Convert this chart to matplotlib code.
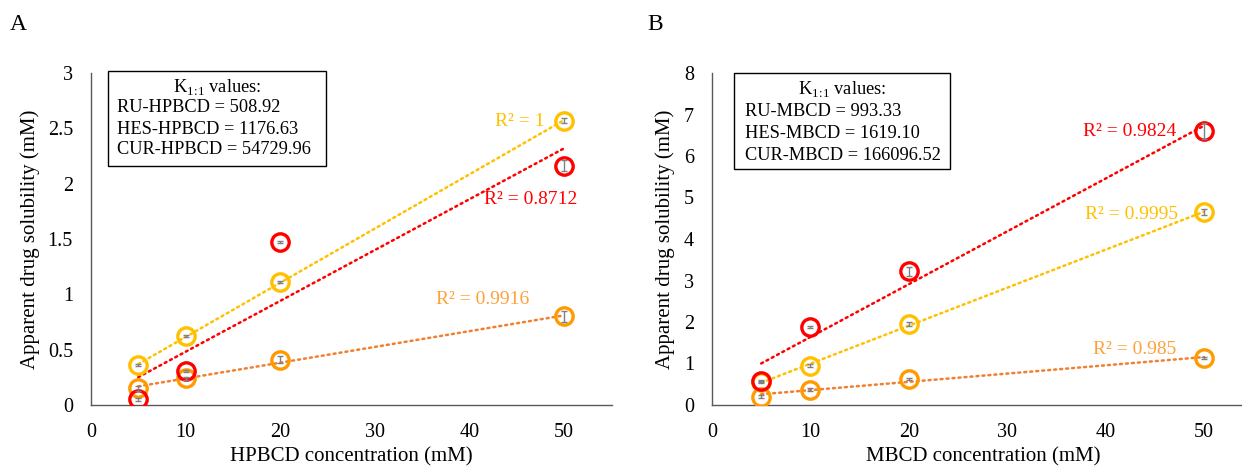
import numpy as np
import matplotlib
matplotlib.use('Agg')
import matplotlib.pyplot as plt
from matplotlib.patches import Rectangle

plt.rcParams['font.family'] = ['Liberation Serif', 'DejaVu Serif']
plt.rcParams['mathtext.fontset'] = 'custom'
plt.rcParams['mathtext.rm'] = 'Liberation Serif'

# concentrations (mM)
conc = [5, 10, 20, 50]

# panel A - HPBCD
a_ru = [0.05, 0.31, 1.47, 2.16]
a_ru_err = [0.01, 0.01, 0.01, 0.05]
a_hes = [0.36, 0.62, 1.11, 2.57]
a_hes_err = [0.01, 0.01, 0.01, 0.02]
a_cur = [0.15, 0.24, 0.41, 0.80]
a_cur_err = [0.02, 0.01, 0.03, 0.05]
a_r2 = ['R² = 0.8712', 'R² = 1', 'R² = 0.9916']
a_k = ['RU-HPBCD = 508.92', 'HES-HPBCD = 1176.63', 'CUR-HPBCD = 54729.96']

# panel B - MBCD
b_ru = [0.58, 1.88, 3.22, 6.60]
b_ru_err = [0.03, 0.03, 0.10, 0.20]
b_hes = [0.55, 0.95, 1.95, 4.65]
b_hes_err = [0.03, 0.03, 0.05, 0.08]
b_cur = [0.20, 0.37, 0.63, 1.13]
b_cur_err = [0.03, 0.03, 0.03, 0.03]
b_r2 = ['R² = 0.9824', 'R² = 0.9995', 'R² = 0.985']
b_k = ['RU-MBCD = 993.33', 'HES-MBCD = 1619.10', 'CUR-MBCD = 166096.52']

RED = '#FF0000'
YEL = '#FFC000'
ORA = '#FF9A00'
ORA_LINE = '#F08030'
ORA_TXT = '#FFA038'


def draw_series(ax, y, err, mcol, lcol):
    x = np.array(conc, dtype=float)
    k, b = np.polyfit(x, y, 1)
    xs = np.array([x.min(), x.max()])
    ax.plot(xs, k * xs + b, color=lcol, lw=1.8, ls=(0, (0.8, 1.6)),
            dash_capstyle='round', zorder=2)
    ax.plot(x, y, 'o', ms=12.5, mfc='none', mec=mcol, mew=2.4, zorder=3)
    ax.errorbar(x, y, yerr=err, fmt='none', ecolor='#808080', elinewidth=1,
                capsize=2.5, capthick=1, zorder=4)


def style(ax, ymax, yticks, xmax, xlabel, xlab_x):
    ax.set_xlim(0, xmax)
    ax.set_ylim(0, ymax)
    ax.set_xticks([0, 10, 20, 30, 40, 50])
    ax.set_yticks(yticks)
    ax.set_yticklabels([('%g' % t) for t in yticks])
    for s in ['top', 'right']:
        ax.spines[s].set_visible(False)
    for s in ['left', 'bottom']:
        ax.spines[s].set_color('#595959')
        ax.spines[s].set_linewidth(1.0)
    ax.tick_params(length=0, labelsize=14.5, pad=13)
    ax.set_xlabel(xlabel, fontsize=15)
    ax.xaxis.set_label_coords(xlab_x, -0.128)
    ax.set_ylabel('Apparent drug solubility (mM)', fontsize=15)


def kbox(ax, x0, x1, y0, y1, lines, tx, ys):
    ax.add_patch(Rectangle((x0, y0), x1 - x0, y1 - y0, transform=ax.transAxes,
                           fill=False, ec='black', lw=1.0, clip_on=False, zorder=5))
    ax.text((x0 + x1) / 2, ys[0], r'K$_{\mathregular{1}\!\mathregular{:}\!\mathregular{1}}$ values:',
            transform=ax.transAxes, ha='center', va='center', fontsize=13.2)
    for t, yy in zip(lines, ys[1:]):
        ax.text(tx, yy, t, transform=ax.transAxes, ha='left', va='center', fontsize=13.2)


fig = plt.figure(figsize=(12.42, 4.68), dpi=100)

# ---- panel A
ax1 = fig.add_axes([91 / 1242, 1 - 405 / 468, 521 / 1242, 332 / 468])
draw_series(ax1, a_hes, a_hes_err, YEL, YEL)
draw_series(ax1, a_cur, a_cur_err, ORA, ORA_LINE)
draw_series(ax1, a_ru, a_ru_err, RED, RED)
style(ax1, 3, [0, 0.5, 1, 1.5, 2, 2.5, 3], 55.1, 'HPBCD concentration (mM)', 0.5)
ax1.yaxis.set_label_coords(-0.097, 0.5)
ax1.text(48.0, 2.56, a_r2[1], color=YEL, fontsize=14, ha='right', va='center')
ax1.text(51.4, 1.86, a_r2[0], color=RED, fontsize=14, ha='right', va='center')
ax1.text(46.4, 0.95, a_r2[2], color=ORA_TXT, fontsize=14, ha='right', va='center')
kbox(ax1, 0.033, 0.451, 0.72, 1.006, a_k, 0.05,
     [(405 - 87) / 332, (405 - 108) / 332, (405 - 129) / 332, (405 - 150) / 332])
fig.text(18 / 1242, 1 - 24 / 468, 'A', fontsize=17, ha='center', va='center')

# ---- panel B
ax2 = fig.add_axes([712 / 1242, 1 - 405 / 468, 530 / 1242, 332 / 468])
draw_series(ax2, b_hes, b_hes_err, YEL, YEL)
draw_series(ax2, b_cur, b_cur_err, ORA, ORA_LINE)
draw_series(ax2, b_ru, b_ru_err, RED, RED)
style(ax2, 8, [0, 1, 2, 3, 4, 5, 6, 7, 8], 530 / 9.84, 'MBCD concentration (mM)', 0.511)
ax2.yaxis.set_label_coords(-0.069, 0.5)
ax2.text(47.2, 6.6, b_r2[0], color=RED, fontsize=14, ha='right', va='center')
ax2.text(47.4, 4.6, b_r2[1], color=YEL, fontsize=14, ha='right', va='center')
ax2.text(47.2, 1.33, b_r2[2], color=ORA_TXT, fontsize=14, ha='right', va='center')
kbox(ax2, 0.0415, 0.449, 0.71, 1.0, b_k, 0.062,
     [(405 - 89) / 332, (405 - 112) / 332, (405 - 133) / 332, (405 - 155) / 332])
fig.text(655 / 1242, 1 - 24 / 468, 'B', fontsize=17, ha='center', va='center')

fig.savefig('out.png', dpi=100)
